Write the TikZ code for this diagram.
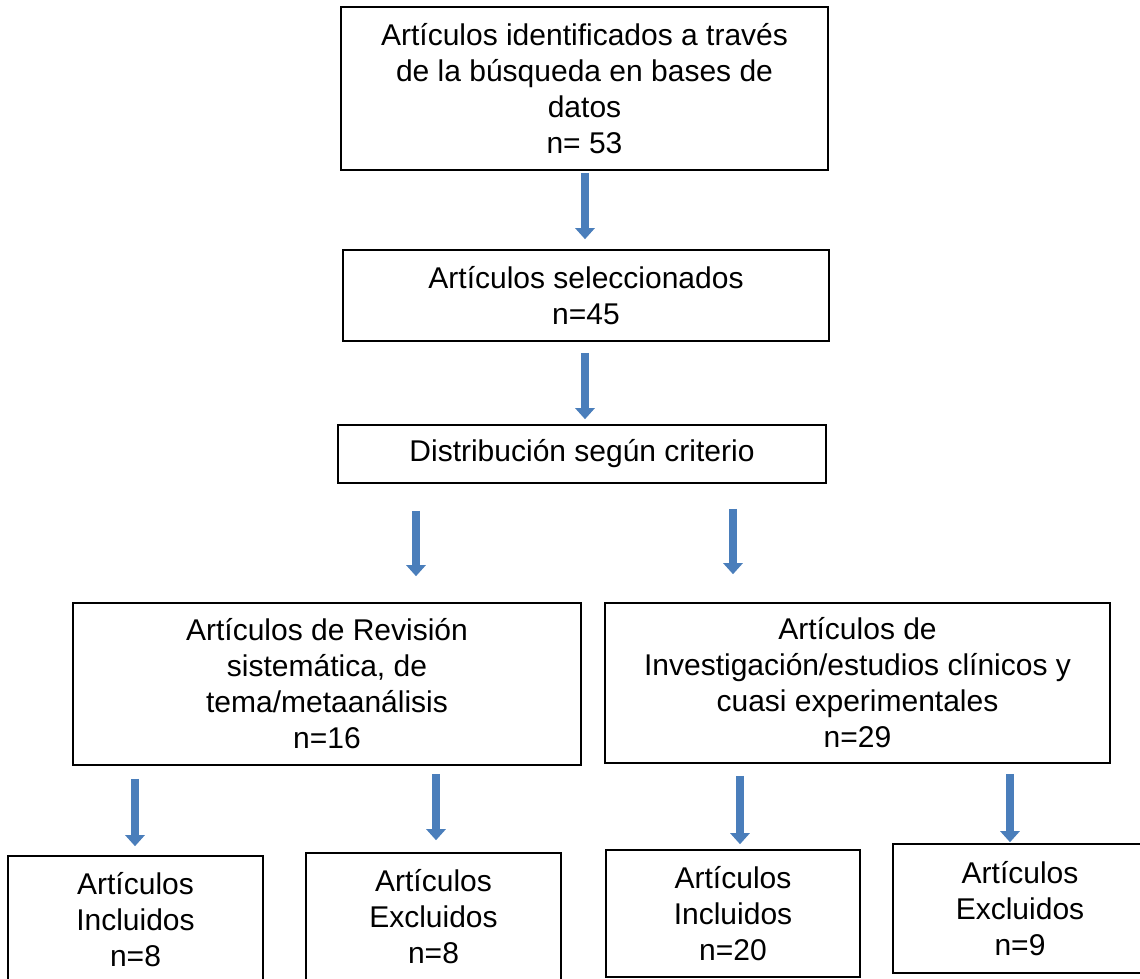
\documentclass[tikz,border=0pt]{standalone}
\usepackage{fontspec}
\setmainfont{Liberation Sans}
\usetikzlibrary{arrows.meta, positioning}
\definecolor{flowblue}{RGB}{74, 126, 187}

\begin{document}
\begin{tikzpicture}[x=1pt, y=1pt,
    box/.style={draw, line width=1.6pt, rectangle, align=center, inner sep=0pt,
        font=\fontsize{30}{36}\selectfont},
    flowarrow/.style={flowblue, line width=8pt, -{Triangle[width=19pt, length=11pt]}}
]
\useasboundingbox (0,0) rectangle (1140,-979);

% Main column
\node[box, minimum width=487pt, minimum height=163pt] (ident) at (584.5,-88.5)
    {Artículos identificados a través\\ de la búsqueda en bases de\\ datos\\ n= 53};
\node[box, minimum width=486pt, minimum height=91pt] (select) at (586,-295.5)
    {Artículos seleccionados\\ n=45};
\node[box, minimum width=488pt, minimum height=58pt] (distr) at (582,-454)
    {Distribución según criterio};

% Arrows down the column
\draw[flowarrow, shorten <=2pt, shorten >=10pt] (ident.south -| 585,0) -- (select.north -| 585,0);
\draw[flowarrow, shorten <=11pt, shorten >=5pt] (select.south -| 585,0) -- (distr.north -| 585,0);

% Second row
\node[box, minimum width=508pt, minimum height=162pt] (review) at (327,-684)
    {Artículos de Revisión\\ sistemática, de\\ tema/metaanálisis\\ n=16};
\node[box, minimum width=505pt, minimum height=160pt] (research) at (857.5,-683)
    {Artículos de\\ Investigación/estudios clínicos y\\ cuasi experimentales\\ n=29};

\draw[flowarrow, shorten <=27pt, shorten >=26pt] (distr.south -| 416,0) -- (review.north -| 416,0);
\draw[flowarrow, shorten <=25pt, shorten >=28pt] (distr.south -| 733,0) -- (research.north -| 733,0);

% Bottom row
\node[box, minimum width=255pt, minimum height=128pt] (revin) at (135.5,-920)
    {Artículos\\ Incluidos\\ n=8};
\node[box, minimum width=255pt, minimum height=128pt] (revex) at (433.5,-917)
    {Artículos\\ Excluidos\\ n=8};
\node[box, minimum width=254pt, minimum height=127pt] (resin) at (733,-913.5)
    {Artículos\\ Incluidos\\ n=20};
\node[box, minimum width=254pt, minimum height=129pt] (resex) at (1020,-908.5)
    {Artículos\\ Excluidos\\ n=9};

\draw[flowarrow, shorten <=13pt, shorten >=9pt] (review.south -| 135,0) -- (revin.north -| 135,0);
\draw[flowarrow, shorten <=8pt, shorten >=12pt] (review.south -| 436,0) -- (revex.north -| 436,0);
\draw[flowarrow, shorten <=12pt, shorten >=5pt] (research.south -| 740,0) -- (resin.north -| 740,0);
\draw[flowarrow, shorten <=10pt, shorten >=1pt] (research.south -| 1010,0) -- (resex.north -| 1010,0);

\end{tikzpicture}
\end{document}
